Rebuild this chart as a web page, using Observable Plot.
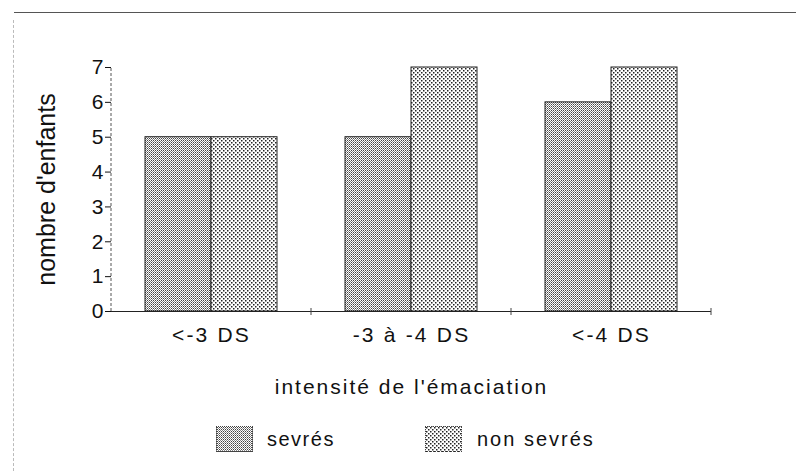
<!DOCTYPE html>
<html>
<head>
<meta charset="utf-8">
<script src="https://cdn.jsdelivr.net/npm/d3@7"></script>
<script src="https://cdn.jsdelivr.net/npm/@observablehq/plot@0.6"></script>
<style>
  html, body { margin: 0; padding: 0; background: #fff; }
  #wrap { position: relative; width: 796px; height: 471px; overflow: hidden; font-family: "Liberation Sans", Arial, sans-serif; color: #111; }
  #topline { position: absolute; left: 14px; top: 12px; width: 782px; height: 0; border-top: 1.5px solid #555; }
  #leftline { position: absolute; left: 13px; top: 20px; width: 0; height: 451px; border-left: 1px dashed #bbb; }
  #chart { position: absolute; left: 0; top: 0; }
  #chart svg text { font-family: "Liberation Sans", Arial, sans-serif; fill: #111; }
  #chart g[aria-label="y-axis tick label"], #chart g[aria-label="y-axis tick label"] text { font-size: 21px !important; }
  #chart g[aria-label="fx-axis tick label"], #chart g[aria-label="fx-axis tick label"] text { font-size: 21px !important; letter-spacing: 2.2px; }
  #chart g[aria-label="fx-axis label"], #chart g[aria-label="fx-axis label"] text { font-size: 21px !important; letter-spacing: 2px; }
  #chart g[aria-label="y-axis label"], #chart g[aria-label="y-axis label"] text { font-size: 25px !important; }
  .leg-sw { position: absolute; width: 37px; height: 26px; box-sizing: border-box; border: 1px dotted #444; }
  .leg-tx { position: absolute; font-size: 20px; line-height: 26px; }
</style>
</head>
<body>
<svg width="0" height="0" style="position:absolute">
  <defs>
    <pattern id="pat-sevres" width="2" height="2" patternUnits="userSpaceOnUse">
      <rect width="2" height="2" fill="#fff"/>
      <rect x="0" y="0" width="1" height="1" fill="#444"/>
      <rect x="1" y="1" width="1" height="1" fill="#888"/>
    </pattern>
    <pattern id="pat-non" width="4" height="4" patternUnits="userSpaceOnUse">
      <rect width="4" height="4" fill="#fff"/>
      <rect x="0" y="0" width="1.5" height="1.5" fill="#222"/>
      <rect x="2" y="2" width="1.5" height="1.5" fill="#222"/>
    </pattern>
  </defs>
</svg>
<div id="wrap">
  <div id="chart"></div>
  <div id="topline"></div>
  <div id="leftline"></div>
  <div class="leg-sw" style="left:216px;top:426px;background:url('data:image/svg+xml;utf8,<svg xmlns=%22http://www.w3.org/2000/svg%22 width=%222%22 height=%222%22><rect width=%222%22 height=%222%22 fill=%22%23fff%22/><rect width=%221%22 height=%221%22 fill=%22%23444%22/><rect x=%221%22 y=%221%22 width=%221%22 height=%221%22 fill=%22%23888%22/></svg>')"></div>
  <div class="leg-tx" id="lt1" style="left:267px;top:426px;letter-spacing:1.5px"></div>
  <div class="leg-sw" style="left:425px;top:426px;background:url('data:image/svg+xml;utf8,<svg xmlns=%22http://www.w3.org/2000/svg%22 width=%224%22 height=%224%22><rect width=%224%22 height=%224%22 fill=%22%23fff%22/><rect width=%221.5%22 height=%221.5%22 fill=%22%23222%22/><rect x=%222%22 y=%222%22 width=%221.5%22 height=%221.5%22 fill=%22%23222%22/></svg>')"></div>
  <div class="leg-tx" id="lt2" style="left:477px;top:426px;letter-spacing:2px"></div>
</div>
<script>
// ---- data ----
const categories = ["<-3 DS", "-3 à -4 DS", "<-4 DS"];
const series = ["sevrés", "non sevrés"];
const sevres = [5, 5, 6];
const nonSevres = [5, 7, 7];
const yTicks = [0, 1, 2, 3, 4, 5, 6, 7];
const xTitle = "intensité de l'émaciation";
const yTitle = "nombre d'enfants";

const rows = [];
categories.forEach((c, i) => {
  rows.push({cat: c, series: series[0], value: sevres[i]});
  rows.push({cat: c, series: series[1], value: nonSevres[i]});
});

const chart = Plot.plot({
  width: 796,
  height: 405,
  marginLeft: 110,
  marginRight: 84,
  marginTop: 67,
  marginBottom: 94,
  fx: {domain: categories, padding: 0, label: xTitle, labelAnchor: "center", labelOffset: 82, tickSize: 0, tickPadding: 16},
  x: {domain: series, paddingInner: 0, paddingOuter: 0.5, axis: null},
  y: {domain: [0, 7], ticks: yTicks, tickFormat: d3.format("d"), tickSize: 6, tickPadding: 2, label: yTitle, labelAnchor: "center", labelOffset: 74},
  color: {domain: series, range: ["url(#pat-sevres)", "url(#pat-non)"]},
  marks: [
    Plot.barY(rows, {fx: "cat", x: "series", y: "value", fill: "series", stroke: "#222", strokeWidth: 1, inset: 0}),
    Plot.ruleY([0], {stroke: "#222", strokeWidth: 1})
  ]
});
document.getElementById("chart").appendChild(chart);

const svg = d3.select(chart.tagName.toLowerCase() === "svg" ? chart : chart.querySelector("svg"));
// keep the y title as plain text (no arrow)
svg.selectAll('g[aria-label="y-axis label"] text').text(yTitle);

// axis line and group separators, positioned from the plot's own scales
const ys = chart.scale("y");
const y0 = ys.apply(0), y7 = ys.apply(7);
let left = 110, bw = 200, fxs = null;
try { fxs = chart.scale("fx"); } catch (e) {}
const edges = [];
if (fxs && fxs.apply) {
  categories.forEach(c => edges.push(fxs.apply(c) + (fxs.bandwidth || bw)));
  left = fxs.apply(categories[0]);
}
svg.append("line").attr("x1", left).attr("x2", left).attr("y1", y0).attr("y2", y7)
  .attr("stroke", "#555").attr("stroke-width", 1).attr("stroke-dasharray", "3,2");
edges.forEach(x => svg.append("line").attr("x1", x).attr("x2", x).attr("y1", y0 - 3).attr("y2", y0 + 4)
  .attr("stroke", "#444").attr("stroke-width", 1));

document.getElementById("lt1").textContent = series[0];
document.getElementById("lt2").textContent = series[1];
</script>
</body>
</html>
